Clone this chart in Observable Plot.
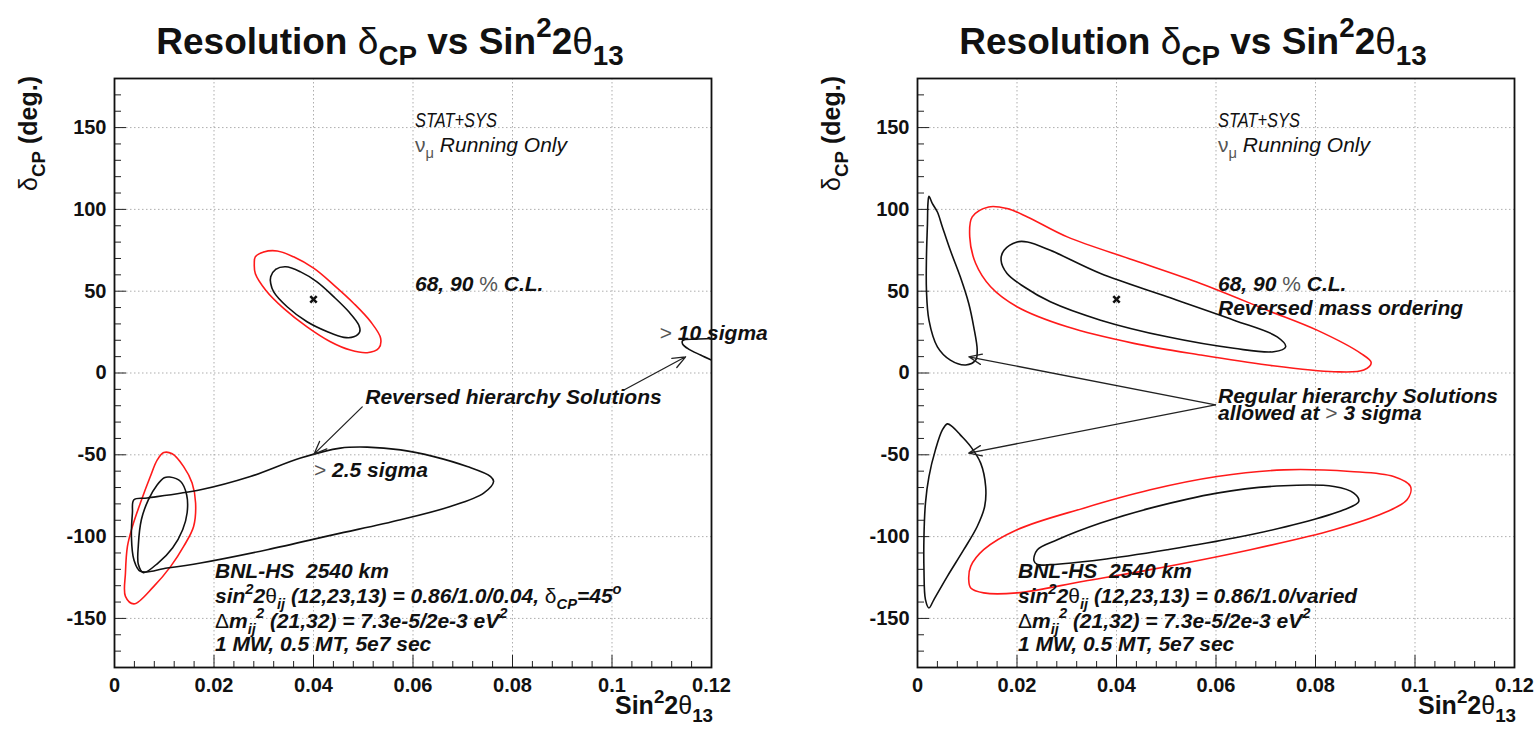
<!DOCTYPE html>
<html>
<head>
<meta charset="utf-8">
<script src="https://cdn.jsdelivr.net/npm/d3@7"></script>
<script src="https://cdn.jsdelivr.net/npm/@observablehq/plot@0.6"></script>
<style>
  html, body { margin: 0; padding: 0; background: #fff; }
  #wrap { position: relative; width: 1538px; height: 741px; overflow: hidden; background: #fff; }
  #wrap svg { position: absolute; top: 0; overflow: visible; }
</style>
</head>
<body>
<div id="wrap"></div>
<script>
// ---- axes ----------------------------------------------------------------
const xTicks = [0, 0.02, 0.04, 0.06, 0.08, 0.1, 0.12];
const yTicks = [-150, -100, -50, 0, 50, 100, 150];
const xDomain = [0, 0.12];
const yDomain = [-180, 180];

// ---- normal ordering fit (left panel), contours as [sin^2 2θ13, δCP] ----
const bestFit = [[0.04, 45]];

const left68 = [
  [0.0314, 58.8], [0.0324, 63.3], [0.0344, 64.9], [0.0374, 61.8], [0.0407, 55.7],
  [0.0441, 46.5], [0.0471, 37.4], [0.0491, 29.3], [0.0493, 25.2], [0.0481, 22.1],
  [0.0461, 21.8], [0.0428, 25.2], [0.0387, 31.3], [0.0347, 40.5], [0.0320, 49.6],
  [0.0314, 54.7]
];
const left90 = [
  [0.0283, 71.0], [0.0300, 74.0], [0.0327, 74.6], [0.0360, 71.0], [0.0401, 63.9],
  [0.0441, 53.7], [0.0481, 42.5], [0.0515, 31.3], [0.0535, 21.2], [0.0531, 15.1],
  [0.0508, 12.4], [0.0474, 14.0], [0.0434, 19.1], [0.0387, 28.2], [0.0340, 39.5],
  [0.0304, 50.6], [0.0283, 60.8], [0.0281, 66.9]
];
// reversed hierarchy solutions
const leftRev68 = [
  [0.0111, -63.6], [0.0133, -66.3], [0.0145, -74.4], [0.0146, -85.4], [0.0137, -95.8],
  [0.0117, -106.8], [0.0088, -116.0], [0.0058, -122.0], [0.0048, -117.1], [0.0048, -104.9],
  [0.0054, -89.7], [0.0068, -77.5], [0.0086, -68.3], [0.0100, -64.0]
];
const leftRev90 = [
  [0.0099, -48.6], [0.0116, -49.4], [0.0139, -57.2], [0.0156, -67.3], [0.0163, -79.5],
  [0.0159, -93.8], [0.0139, -106.0], [0.0113, -118.2], [0.0079, -130.4], [0.0039, -141.1],
  [0.0022, -136.5], [0.0022, -122.2], [0.0026, -106.0], [0.0036, -93.8], [0.0052, -79.5],
  [0.0072, -63.3], [0.0086, -53.1]
];
const leftRev25sigma = [
  [0.0039, -77.5], [0.0066, -76.4], [0.0173, -71.4], [0.0273, -63.3], [0.0374, -52.0],
  [0.0454, -45.9], [0.0508, -45.3], [0.0575, -47.0], [0.0642, -51.1], [0.0709, -57.2],
  [0.0756, -63.3], [0.0762, -66.3], [0.0742, -73.4], [0.0675, -81.6], [0.0575, -89.7],
  [0.0441, -98.8], [0.0307, -108.0], [0.0173, -116.1], [0.0106, -119.2], [0.0052, -121.2],
  [0.0039, -114.1], [0.0034, -99.9], [0.0036, -85.6]
];
const leftRev10sigma = [
  [0.1200, 21.1], [0.1168, 20.7], [0.1142, 19.8], [0.1142, 17.7], [0.1154, 14.6],
  [0.1178, 11.0], [0.1200, 7.9]
];
const leftArrows = [
  {x1: 0.0498, y1: -20.7, x2: 0.0401, y2: -49.6},
  {x1: 0.1024, y1: -10.4, x2: 0.1148, y2: 9.9}
];

// ---- reversed mass ordering fit (right panel) ----------------------------
const right68Upper = [
  [0.0200, 80.1], [0.0174, 75.0], [0.0168, 68.9], [0.0180, 60.8], [0.0214, 52.7],
  [0.0267, 43.5], [0.0368, 32.3], [0.0502, 22.1], [0.0636, 15.1], [0.0716, 13.0],
  [0.0740, 16.0], [0.0723, 22.1], [0.0636, 32.3], [0.0502, 46.6], [0.0368, 60.8],
  [0.0267, 75.0], [0.0221, 80.1]
];
const right90Upper = [
  [0.0143, 101.5], [0.0110, 95.4], [0.0105, 83.2], [0.0117, 66.9], [0.0147, 52.7],
  [0.0200, 40.5], [0.0301, 28.2], [0.0435, 18.1], [0.0569, 11.0], [0.0703, 4.9],
  [0.0837, 0.8], [0.0897, 1.8], [0.0912, 6.3], [0.0891, 12.0], [0.0803, 26.2],
  [0.0703, 38.4], [0.0569, 54.7], [0.0435, 68.9], [0.0301, 83.2], [0.0221, 95.4],
  [0.0180, 100.5]
];
const right68Lower = [
  [0.0234, -114.7], [0.0241, -108.0], [0.0281, -101.9], [0.0368, -91.7], [0.0468, -82.6],
  [0.0602, -73.4], [0.0736, -68.9], [0.0837, -69.4], [0.0877, -73.4], [0.0887, -78.5],
  [0.0857, -83.6], [0.0770, -91.7], [0.0636, -100.9], [0.0502, -108.0], [0.0368, -114.1],
  [0.0267, -117.1], [0.0241, -117.1]
];
const right90Lower = [
  [0.0103, -126.3], [0.0107, -118.2], [0.0133, -108.0], [0.0200, -95.8], [0.0334, -82.6],
  [0.0468, -71.4], [0.0602, -63.3], [0.0736, -59.2], [0.0870, -60.2], [0.0957, -63.3],
  [0.0991, -69.4], [0.0984, -77.5], [0.0937, -85.6], [0.0837, -95.8], [0.0669, -108.0],
  [0.0468, -120.2], [0.0334, -127.3], [0.0200, -134.4], [0.0133, -134.4], [0.0107, -131.4]
];
// regular hierarchy solutions (> 3 sigma)
const rightReg3sigmaUpper = [
  [0.0023, 108.0], [0.0030, 103.5], [0.0040, 98.4], [0.0050, 89.3], [0.0066, 75.0],
  [0.0086, 58.8], [0.0103, 42.5], [0.0113, 28.2], [0.0120, 14.0], [0.0117, 7.9],
  [0.0097, 4.9], [0.0066, 7.9], [0.0040, 16.0], [0.0023, 32.3], [0.0018, 50.6],
  [0.0018, 71.0], [0.0020, 91.3], [0.0021, 103.5]
];
const rightReg3sigmaLower = [
  [0.0060, -31.1], [0.0070, -32.8], [0.0086, -37.8], [0.0107, -45.0], [0.0127, -55.1],
  [0.0137, -69.4], [0.0135, -81.6], [0.0120, -93.8], [0.0093, -108.0], [0.0060, -124.3],
  [0.0033, -138.5], [0.0023, -143.6], [0.0016, -138.5], [0.0013, -120.2], [0.0013, -99.9],
  [0.0016, -79.5], [0.0023, -63.3], [0.0036, -47.0], [0.0050, -34.8]
];
const rightArrows = [
  {x1: 0.0599, y1: -19.5, x2: 0.0103, y2: 9.9},
  {x1: 0.0599, y1: -19.5, x2: 0.0103, y2: -49.0}
];

// ---- annotations: parts are [text, code]; code: s = symbol glyph, g = grey, _ = sub, ^ = sup
const commonHead = [
  {x: 0.0605, y: 150, weight: "normal", fit: 82, parts: [["STAT+SYS"]]},
  {x: 0.0605, y: 135, weight: "normal", parts: [["ν", "sg"], ["μ", "sg_"], [" Running Only"]]},
  {x: 0.0605, y: 50, parts: [["68, 90 "], ["%", "sg"], [" C.L."]]}
];
const beamLines = [
  {x: 0.0203, y: -156, parts: [["Δ", "s"], ["m"], ["ij", "_"], ["2", "^"], [" (21,32) = 7.3e-5/2e-3 eV"], ["2", "^"]]},
  {x: 0.0203, y: -170.5, parts: [["1 MW, 0.5 MT, 5e7 sec"]]}
];
const leftNotes = [
  ...commonHead,
  {x: 0.1097, y: 20, parts: [[">", "sg"], [" 10 sigma"]]},
  {x: 0.0505, y: -19, parts: [["Reversed hierarchy Solutions"]]},
  {x: 0.0402, y: -64, parts: [[">", "sg"], [" 2.5 sigma"]]},
  {x: 0.0203, y: -125.5, parts: [["BNL-HS  2540 km"]]},
  {x: 0.0203, y: -141, parts: [["sin"], ["2", "^"], ["2"], ["θ", "s"], ["ij", "_"], [" (12,23,13) = 0.86/1.0/0.04, "], ["δ", "s"], ["CP", "_"], ["=45"], ["o", "^"]]},
  ...beamLines
];
const rightNotes = [
  ...commonHead,
  {x: 0.0605, y: 35, parts: [["Reversed mass ordering"]]},
  {x: 0.0605, y: -18.5, parts: [["Regular hierarchy Solutions"]]},
  {x: 0.0605, y: -29, parts: [["allowed at "], [">", "sg"], [" 3 sigma"]]},
  {x: 0.0203, y: -125.5, parts: [["BNL-HS  2540 km"]]},
  {x: 0.0203, y: -141, parts: [["sin"], ["2", "^"], ["2"], ["θ", "s"], ["ij", "_"], [" (12,23,13) = 0.86/1.0/varied"]]},
  ...beamLines
];

const titleParts = [["Resolution "], ["δ", "s"], ["CP", "_"], [" vs Sin"], ["2", "^"], ["2"], ["θ", "s"], ["13", "_"]];
const yLabelParts = [["δ", "s"], ["CP", "_"], [" (deg.)"]];
const xLabelParts = [["Sin"], ["2", "^"], ["2"], ["θ", "s"], ["13", "_"]];

// ---- drawing ---------------------------------------------------------------
const FONT = "'Liberation Sans', Arial, Helvetica, sans-serif";
const RED = "#ff1a1a";
const xMinor = d3.range(0, 0.1201, 0.004).filter(v => Math.abs(v / 0.02 - Math.round(v / 0.02)) > 1e-6);
const yMinor = d3.range(-180, 181, 10).filter(v => v % 50 !== 0);
const fmtX = d => `${+d.toFixed(3)}`;
const fmtY = d => `${d}`;

function rich(text, parts, size, {symColor = "#555", scriptScale = 0.7} = {}) {
  let shift = 0;
  for (const [s, code = ""] of parts) {
    const target = code.includes("_") ? 0.3 * size : code.includes("^") ? -0.45 * size : 0;
    const ts = text.append("tspan").text(s);
    if (target !== shift) ts.attr("dy", target - shift);
    shift = target;
    if (target) ts.attr("font-size", size * scriptScale);
    if (code.includes("s")) ts.attr("font-weight", "normal").attr("font-style", "normal");
    if (code.includes("g")) ts.attr("fill", symColor);
  }
}

function panel({left, width, marginRight, lines68, lines90, extra, open, arrows, notes}) {
  const contour = (data, stroke, curve = "catmull-rom-closed") =>
    Plot.line(data, {x: d => d[0], y: d => d[1], stroke, strokeWidth: 1.6, curve, clip: true});
  const plot = Plot.plot({
    width, height: 741,
    marginTop: 78, marginBottom: 74, marginLeft: 114, marginRight,
    style: {fontFamily: FONT, background: "transparent", overflow: "visible"},
    x: {domain: xDomain},
    y: {domain: yDomain},
    marks: [
      Plot.gridX(xTicks, {stroke: "#9a9a9a", strokeOpacity: 0.8, strokeDasharray: "1.5,2.5"}),
      Plot.gridY(yTicks, {stroke: "#9a9a9a", strokeOpacity: 0.8, strokeDasharray: "1.5,2.5"}),
      Plot.axisX(xMinor, {tickSize: -6, tickFormat: () => "", stroke: "#222"}),
      Plot.axisY(yMinor, {tickSize: -7, tickFormat: () => "", stroke: "#222"}),
      Plot.axisX(xTicks, {tickSize: -12, tickPadding: 22, tickFormat: fmtX, fontSize: 20, fontWeight: "bold", fill: "#111", stroke: "#222"}),
      Plot.axisY(yTicks, {tickSize: -12, tickPadding: 20, tickFormat: fmtY, fontSize: 20, fontWeight: "bold", fill: "#111", stroke: "#222"}),
      ...lines90.map(d => contour(d, RED)),
      ...lines68.map(d => contour(d, "#111")),
      ...extra.map(d => contour(d, "#111")),
      ...open.map(d => contour(d, "#111", "catmull-rom")),
      Plot.dot(bestFit, {x: d => d[0], y: d => d[1], symbol: "times", r: 3, stroke: "#111", strokeWidth: 2.6}),
      Plot.arrow(arrows, {x1: "x1", y1: "y1", x2: "x2", y2: "y2", stroke: "#222", strokeWidth: 1.3, headLength: 16, headAngle: 44}),
      Plot.frame({stroke: "#111", strokeWidth: 1.8})
    ]
  });
  plot.style.left = `${left}px`;
  const sx = plot.scale("x"), sy = plot.scale("y");
  const svg = d3.select(plot);
  const g = svg.append("g").attr("font-family", FONT).attr("fill", "#111").attr("text-anchor", "start");

  // annotations placed in data coordinates
  for (const n of notes) {
    const size = n.size || 21;
    const t = g.append("text")
      .attr("x", sx.apply(n.x)).attr("y", sy.apply(n.y)).attr("text-anchor", "start")
      .attr("font-size", size).attr("font-style", "italic").attr("font-weight", n.weight || "bold");
    if (n.fit) t.attr("textLength", n.fit).attr("lengthAdjust", "spacingAndGlyphs");
    rich(t, n.parts, size);
  }

  // title
  const title = g.append("text").attr("x", 390).attr("y", 54).attr("text-anchor", "middle")
    .attr("font-size", 37).attr("font-weight", "bold");
  rich(title, titleParts, 37, {symColor: "#111", scriptScale: 0.75});

  // y axis label (rotated, flush with the frame top)
  const yl = g.append("text").attr("transform", `translate(37,${sy.apply(yDomain[1]) - 2}) rotate(-90)`)
    .attr("text-anchor", "end").attr("font-size", 25).attr("font-weight", "bold");
  rich(yl, yLabelParts, 25, {symColor: "#111", scriptScale: 0.75});

  // x axis label (flush with the frame right edge)
  const xl = g.append("text").attr("x", sx.apply(xDomain[1]) + 2).attr("y", 714)
    .attr("text-anchor", "end").attr("font-size", 25).attr("font-weight", "bold");
  rich(xl, xLabelParts, 25, {symColor: "#111", scriptScale: 0.75});

  return plot;
}

const wrap = document.getElementById("wrap");
wrap.append(panel({
  left: 0, width: 769, marginRight: 58,
  lines68: [left68, leftRev68], lines90: [left90, leftRev90],
  extra: [leftRev25sigma], open: [leftRev10sigma],
  arrows: leftArrows, notes: leftNotes
}));
wrap.append(panel({
  left: 803, width: 735, marginRight: 24,
  lines68: [right68Upper, right68Lower], lines90: [right90Upper, right90Lower],
  extra: [rightReg3sigmaUpper, rightReg3sigmaLower], open: [],
  arrows: rightArrows, notes: rightNotes
}));
</script>
</body>
</html>
